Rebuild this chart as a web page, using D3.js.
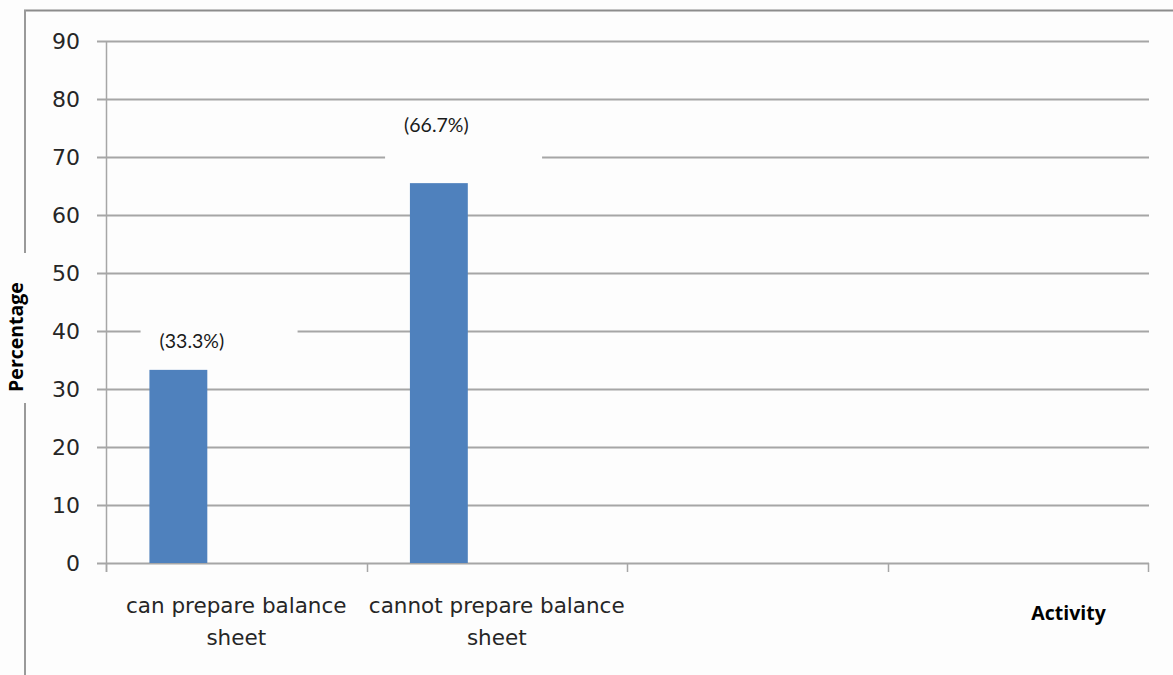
<!DOCTYPE html>
<html>
<head>
<meta charset="utf-8">
<script src="https://cdn.jsdelivr.net/npm/d3@7"></script>
<style>
  html, body { margin: 0; padding: 0; background: #fdfdfd; }
  svg { display: block; }
</style>
</head>
<body>
<svg id="chart" width="1173" height="675"></svg>
<script>
// Categories along the x axis (the last two slots are empty)
const categories = ["can prepare balance sheet", "cannot prepare balance sheet", "", ""];
// Percentage of respondents per activity
const values = [33.3, 66.7];
// Data label texts
const valueLabels = ["(33.3%)", "(66.7%)"];
// Y axis tick values
const yTicks = [0, 10, 20, 30, 40, 50, 60, 70, 80, 90];
// Series slots per category (only the first carries data)
const seriesSlots = [0, 1, 2];

// Layout of the hand-placed data labels relative to their bars
const labelDx = [13.5, -2.5];
const labelDy = [-22, -44];
const labelBoxHeights = [47, 81];

const svg = d3.select("#chart");
const W = 1173, H = 675;

const plot = { left: 106, right: 1148, top: 41, bottom: 563 };

const y = d3.scaleLinear().domain([0, 90]).range([plot.bottom, plot.top]);
const x = d3.scaleBand().domain(d3.range(categories.length)).range([plot.left, plot.right]).padding(0);
const xs = d3.scaleBand().domain(seriesSlots).range([0, x.bandwidth()]).paddingInner(0).paddingOuter(0.75);

const gridColor = "#a6a6a6";

// Outer chart frame (top and left edges)
svg.append("line").attr("x1", 24).attr("x2", W).attr("y1", 10.5).attr("y2", 10.5)
  .attr("stroke", "#8c8c8c").attr("stroke-width", 2);
svg.append("line").attr("x1", 25).attr("x2", 25).attr("y1", 10).attr("y2", H)
  .attr("stroke", "#9a9a9a").attr("stroke-width", 2);

// Horizontal gridlines (including the short tick stubs left of the axis)
svg.append("g").selectAll("line").data(yTicks).join("line")
  .attr("x1", plot.left - 9).attr("x2", plot.right + 1)
  .attr("y1", d => Math.round(y(d)) + 0.5).attr("y2", d => Math.round(y(d)) + 0.5)
  .attr("stroke", gridColor).attr("stroke-width", 2);

// Vertical axis line
svg.append("line").attr("x1", plot.left + 0.5).attr("x2", plot.left + 0.5)
  .attr("y1", plot.top).attr("y2", plot.bottom + 9)
  .attr("stroke", gridColor).attr("stroke-width", 1.5);

// Category boundary tick marks
const boundaries = d3.range(categories.length).map(i => x(i)).concat([x.range()[1]]);
svg.append("g").selectAll("line").data(boundaries).join("line")
  .attr("x1", d => Math.round(d) + 0.5).attr("x2", d => Math.round(d) + 0.5)
  .attr("y1", plot.bottom).attr("y2", plot.bottom + 9)
  .attr("stroke", gridColor).attr("stroke-width", 1.5);

// White box behind the y axis title
svg.append("rect").attr("x", 0).attr("y", 253).attr("width", 47).attr("height", 150).attr("fill", "#fdfdfd");

// Y tick labels
const yAxis = d3.axisLeft(y).tickValues(yTicks).tickSize(0).tickPadding(26);
const gy = svg.append("g").attr("transform", `translate(${plot.left},0)`).call(yAxis);
gy.select(".domain").remove();
gy.selectAll("text")
  .attr("font-family", "DejaVu Sans, sans-serif").attr("font-size", 22)
  .attr("fill", "#262626");

// Bars
svg.append("g").selectAll("rect").data(values).join("rect")
  .attr("x", (d, i) => x(i) + xs(0))
  .attr("width", xs.bandwidth())
  .attr("y", d => y(d))
  .attr("height", d => y(0) - y(d))
  .attr("fill", "#4f81bd");

// Data labels on white boxes
const lbl = svg.append("g").selectAll("g").data(values).join("g");
lbl.each(function (d, i) {
  const g = d3.select(this);
  const cx = x(i) + xs(0) + xs.bandwidth() / 2 + labelDx[i];
  const by = y(d) + labelDy[i];
  const t = g.append("text")
    .attr("x", cx).attr("y", by)
    .attr("text-anchor", "middle")
    .attr("font-family", "Lato, 'Open Sans', sans-serif").attr("font-size", 19.5)
    .attr("fill", "#1a1a1a")
    .text(valueLabels[i]);
  const w = t.node().getComputedTextLength();
  g.insert("rect", "text")
    .attr("x", cx - w / 2 - 19).attr("y", by - 30)
    .attr("width", 157).attr("height", labelBoxHeights[i])
    .attr("fill", "#fdfdfd");
});

// Category labels, wrapped to the category width
const catG = svg.append("g");
categories.forEach((c, i) => {
  if (!c) return;
  const cx = x(i) + x.bandwidth() / 2;
  const t = catG.append("text")
    .attr("x", cx).attr("y", 613)
    .attr("text-anchor", "middle")
    .attr("font-family", "DejaVu Sans, sans-serif").attr("font-size", 21.5)
    .attr("fill", "#262626");
  const words = c.split(" ");
  let line = [];
  let tspan = t.append("tspan").attr("x", cx).attr("dy", 0);
  words.forEach(wd => {
    line.push(wd);
    tspan.text(line.join(" "));
    if (tspan.node().getComputedTextLength() > x.bandwidth() - 2 && line.length > 1) {
      line.pop();
      tspan.text(line.join(" "));
      line = [wd];
      tspan = t.append("tspan").attr("x", cx).attr("dy", 32).text(wd);
    }
  });
});

// Axis titles
svg.append("text")
  .attr("transform", "translate(23,337) rotate(-90)")
  .attr("text-anchor", "middle")
  .attr("font-family", "'Open Sans', sans-serif").attr("font-weight", "bold").attr("font-size", 19.5)
  .attr("fill", "#000")
  .text("Percentage");

svg.append("rect").attr("x", 1011).attr("y", 587).attr("width", 150).attr("height", 51).attr("fill", "#fdfdfd");
svg.append("text")
  .attr("x", 1068.5).attr("y", 620)
  .attr("text-anchor", "middle")
  .attr("font-family", "'Open Sans', sans-serif").attr("font-weight", "bold").attr("font-size", 19.5)
  .attr("fill", "#000")
  .text("Activity");
</script>
</body>
</html>
